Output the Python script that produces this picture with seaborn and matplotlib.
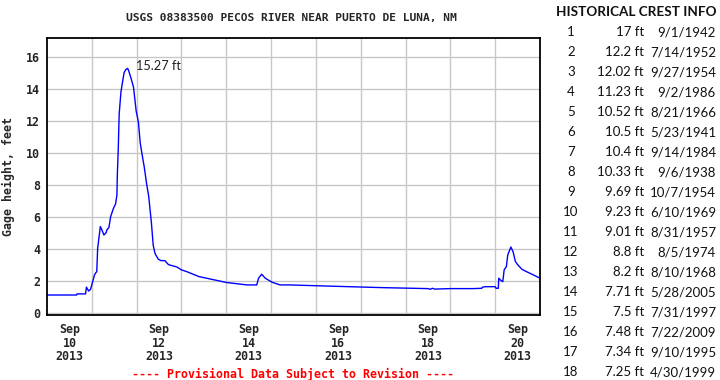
import matplotlib
matplotlib.use("Agg")
import matplotlib.pyplot as plt
import seaborn as sns
import pandas as pd

# --- gage height readings (days since Sep 10 2013 00:00, feet) ---
days = [0, 0.66, 0.67, 0.86, 0.88, 0.93, 0.97, 1.0, 1.06, 1.09, 1.11, 1.13, 1.16,
        1.19, 1.22, 1.27, 1.32, 1.34, 1.38, 1.42, 1.48, 1.53, 1.56, 1.57, 1.59,
        1.61, 1.65, 1.69, 1.72, 1.76, 1.80, 1.83, 1.88, 1.93, 1.99, 2.04, 2.08,
        2.13, 2.17, 2.22, 2.27, 2.33, 2.37, 2.41, 2.48, 2.54, 2.63, 2.71, 2.9,
        3.0, 3.12, 3.39, 3.56, 4.01, 4.46, 4.68, 4.72, 4.79, 4.87, 5.02, 5.2,
        5.42, 6.0, 6.5, 7.0, 7.5, 8.0, 8.5, 8.55, 8.6, 8.65, 9.0, 9.5, 9.7,
        9.72, 9.78, 10.0, 10.02, 10.07, 10.08, 10.13, 10.17, 10.2, 10.25, 10.28,
        10.35, 10.40, 10.45, 10.50, 10.6, 10.7, 10.85, 11.0]
gage_ft = [1.1, 1.1, 1.17, 1.17, 1.59, 1.35, 1.45, 1.73, 2.36, 2.5, 2.55, 4.0, 4.7,
           5.38, 5.2, 4.85, 5.0, 5.2, 5.3, 6.0, 6.5, 6.8, 7.35, 8.7, 10.2,
           12.4, 13.8, 14.5, 15.0, 15.2, 15.27, 15.06, 14.6, 14.1, 12.6, 11.9, 10.6,
           9.75, 9.1, 8.1, 7.25, 5.6, 4.2, 3.7, 3.35, 3.25, 3.25, 3.0, 2.85,
           2.67, 2.56, 2.25, 2.15, 1.88, 1.73, 1.73, 2.15, 2.4, 2.15, 1.9, 1.73,
           1.73, 1.68, 1.64, 1.6, 1.56, 1.53, 1.5, 1.46, 1.52, 1.47, 1.5, 1.5, 1.52,
           1.59, 1.62, 1.62, 1.52, 1.52, 2.15, 2.0, 1.94, 2.67, 2.88, 3.6,
           4.1, 3.8, 3.2, 3.0, 2.7, 2.56, 2.36, 2.15]

peak_label = "15.27 ft"

# x tick labels sit at noon of every other day
label_days = [0.5, 2.5, 4.5, 6.5, 8.5, 10.5]
label_text = ["Sep\n10\n2013", "Sep\n12\n2013", "Sep\n14\n2013",
              "Sep\n16\n2013", "Sep\n18\n2013", "Sep\n20\n2013"]
grid_days = list(range(1, 11))
y_ticks = [0, 2, 4, 6, 8, 10, 12, 14, 16]

# --- historical crests ---
crest_rank = list(range(1, 19))
crest_ft = ["17", "12.2", "12.02", "11.23", "10.52", "10.5", "10.4", "10.33", "9.69",
            "9.23", "9.01", "8.8", "8.2", "7.71", "7.5", "7.48", "7.34", "7.25"]
crest_date = ["9/1/1942", "7/14/1952", "9/27/1954", "9/2/1986", "8/21/1966",
              "5/23/1941", "9/14/1984", "9/6/1938", "10/7/1954", "6/10/1969",
              "8/31/1957", "8/5/1974", "8/10/1968", "5/28/2005", "7/31/1997",
              "7/22/2009", "9/10/1995", "4/30/1999"]

sns.set_style("white")
mono = "DejaVu Sans Mono"
sans = "Lato"

df = pd.DataFrame({"day": days, "gage": gage_ft})

fig = plt.figure(figsize=(7.2, 3.8), dpi=100)
ax = fig.add_axes([47 / 720, 65 / 380, 493 / 720, 277.5 / 380])

sns.lineplot(data=df, x="day", y="gage", color="#0000ff", linewidth=1.0, ax=ax)

ax.set_xlim(0, 11)
ax.set_ylim(-0.15, 17.2)

# gridlines at midnight, labels at noon
ax.set_xticks(grid_days)
ax.set_xticklabels([])
ax.set_xticks(label_days, minor=True)
ax.set_xticklabels(label_text, minor=True, fontfamily=mono, fontweight="bold",
                   fontsize=8.4, linespacing=1.05)
ax.tick_params(axis="x", which="both", length=0, pad=6)
ax.set_yticks(y_ticks)
ax.set_yticklabels([str(v) for v in y_ticks], fontfamily=mono, fontweight="bold",
                   fontsize=8.4)
ax.tick_params(axis="y", length=0, pad=5)
ax.grid(True, which="major", color="#c8c8c8", linewidth=1)
for s in ax.spines.values():
    s.set_color("black")
    s.set_linewidth(1.3)

ax.set_xlabel("")
ax.set_ylabel("Gage height, feet", fontfamily=mono, fontweight="bold", fontsize=8.4,
              labelpad=8)

pk = gage_ft.index(max(gage_ft))
ax.annotate(peak_label, xy=(days[pk], gage_ft[pk]), xytext=(8, 2),
            textcoords="offset pixels", ha="left", va="center",
            fontfamily=sans, fontsize=9.2, color="#222222")

fig.text(291 / 720, 1 - 18 / 380, "USGS 08383500 PECOS RIVER NEAR PUERTO DE LUNA, NM",
         ha="center", va="center", fontfamily=mono, fontweight="bold", fontsize=8.1)
fig.text(293 / 720, 1 - 374 / 380, "---- Provisional Data Subject to Revision ----",
         ha="center", va="center", fontfamily=mono, fontweight="bold", fontsize=8.4,
         color="#ff0000")

# crest table
fig.text(636 / 720, 1 - 12.5 / 380, "HISTORICAL CREST INFO", ha="center", va="center",
         fontfamily=sans, fontweight="bold", fontsize=9.7, color="#111111")
for i, (r, h, d) in enumerate(zip(crest_rank, crest_ft, crest_date)):
    yy = 1 - (32.3 + i * 20.0) / 380
    fig.text(571 / 720, yy, str(r), ha="center", va="center", fontfamily=sans,
             fontsize=9.5, color="#111111")
    fig.text(644 / 720, yy, f"{h} ft", ha="right", va="center", fontfamily=sans,
             fontsize=9.5, color="#111111")
    fig.text(716 / 720, yy, d, ha="right", va="center", fontfamily=sans,
             fontsize=9.5, color="#111111")

fig.savefig("out.png", dpi=100)
